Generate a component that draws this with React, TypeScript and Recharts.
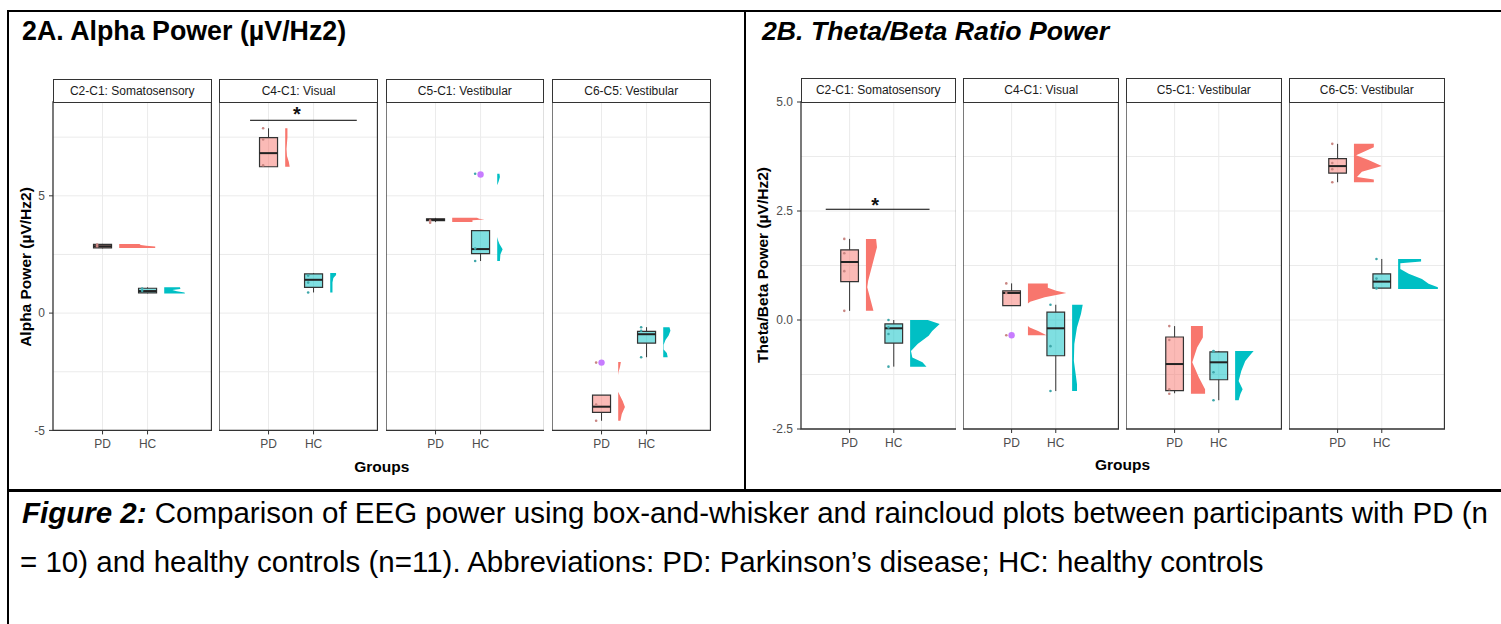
import React from 'react';
import {
  ComposedChart,
  Area,
  Scatter,
  XAxis,
  YAxis,
  CartesianGrid,
  ReferenceArea,
  ReferenceLine,
  ReferenceDot,
} from 'recharts';

const FONT = "'Liberation Sans', Arial, Helvetica, sans-serif";
const PD_COL = '#F8766D';
const HC_COL = '#00BFC4';
const PD_BOX = 'rgba(248,118,109,0.5)';
const HC_BOX = 'rgba(0,191,196,0.5)';
const OUT_COL = '#C77CFF';
const X_DOMAIN: [number, number] = [-0.1, 3.42];
const BOX_HALF = 0.2;
const VIOLIN_OFF = 0.37;
const JITTER_OFF = -0.12;
const TOP_PAD = 10;

const facetNames = ['C2-C1: Somatosensory', 'C4-C1: Visual', 'C5-C1: Vestibular', 'C6-C5: Vestibular'];
const groupNames = ['PD', 'HC'];

// ---- 2A Alpha power ----
// box stats per facet: [lower whisker, Q1, median, Q3, upper whisker]
const alphaBoxPD = [
  [2.76, 2.78, 2.85, 2.93, 2.95],
  [6.24, 6.24, 6.82, 7.48, 7.88],
  [3.88, 3.94, 3.98, 4.02, 4.06],
  [-4.59, -4.23, -3.99, -3.5, -3.5],
];
const alphaBoxHC = [
  [0.84, 0.86, 0.94, 1.06, 1.1],
  [0.88, 1.1, 1.42, 1.67, 1.71],
  [2.22, 2.54, 2.73, 3.52, 3.52],
  [-1.88, -1.28, -0.9, -0.78, -0.6],
];
const alphaPtsPD = [[2.85, 2.92], [7.88, 7.4, 6.3], [3.95, 3.85], [-4.59, -3.9, -2.11]];
const alphaPtsHC = [[0.95, 1.05], [1.6, 1.3, 0.88], [2.22, 2.75, 5.94], [-0.6, -0.75, -1.88]];
const alphaOutPD = [[], [], [], [-2.11]];
const alphaOutHC = [[], [], [5.91], []];
// half-violin profile per facet: [value, width]
const alphaVioPD = [
  [[2.95, 0.45], [2.9, 0.48], [2.87, 0.6], [2.84, 0.8], [2.78, 0.8]],
  [[7.88, 0.05], [7.5, 0.05], [7.0, 0.03], [6.7, 0.04], [6.45, 0.08], [6.24, 0.1]],
  [[4.07, 0.55], [4.02, 0.6], [3.99, 0.72], [3.96, 0.45], [3.88, 0.45]],
  [[-2.08, 0.06], [-2.3, 0.04], [-2.5, 0.01], [-2.65, 0], [-3.35, 0], [-3.48, 0.03], [-3.75, 0.1], [-4.0, 0.15], [-4.3, 0.08], [-4.59, 0.05]],
];
const alphaVioHC = [
  [[1.1, 0.35], [1.03, 0.36], [0.98, 0.18], [0.93, 0.28], [0.88, 0.45], [0.84, 0.46]],
  [[1.71, 0.13], [1.62, 0.13], [1.5, 0.07], [1.3, 0.05], [1.1, 0.05], [0.88, 0.05]],
  [[5.94, 0.05], [5.8, 0.06], [5.6, 0.03], [5.45, 0], [3.25, 0], [3.1, 0.02], [2.95, 0.05], [2.72, 0.12], [2.5, 0.07], [2.22, 0.06]],
  [[-0.6, 0.14], [-0.75, 0.16], [-0.95, 0.12], [-1.15, 0.05], [-1.35, 0.01], [-1.55, 0.01], [-1.7, 0.08], [-1.88, 0.1]],
];
const alphaTicks = [-5, 0, 5];
const alphaGrid = [-5, -2.5, 0, 2.5, 5, 7.5];

// ---- 2B Theta/Beta ratio ----
const thetaBoxPD = [
  [0.21, 0.88, 1.33, 1.61, 1.86],
  [0.33, 0.33, 0.62, 0.67, 0.84],
  [-1.68, -1.62, -1.01, -0.39, -0.14],
  [3.16, 3.37, 3.53, 3.7, 4.04],
];
const thetaBoxHC = [
  [-1.07, -0.53, -0.19, -0.09, 0.0],
  [-1.63, -0.82, -0.19, 0.18, 0.35],
  [-1.84, -1.37, -0.97, -0.73, -0.71],
  [0.73, 0.73, 0.88, 1.06, 1.4],
];
const thetaPtsPD = [[1.86, 1.53, 1.12, 0.21], [0.84, 0.62, -0.35], [-0.14, -0.46, -1.59, -1.69], [4.04, 3.6, 3.46, 3.16]];
const thetaPtsHC = [[0.0, -0.17, -0.32, -1.07], [0.35, -0.6, -1.63], [-0.71, -0.72, -1.2, -1.84], [1.4, 0.95, 0.73, 0.73]];
const thetaOutPD = [[], [-0.35], [], []];
const thetaOutHC = [[], [], [], []];
const thetaVioPD = [
  [[1.86, 0.23], [1.67, 0.25], [1.44, 0.19], [1.13, 0.11], [0.9, 0.05], [0.75, 0.03], [0.44, 0.11], [0.21, 0.17]],
  [[0.84, 0.45], [0.74, 0.45], [0.67, 0.64], [0.62, 0.87], [0.52, 0.38], [0.42, 0.05], [0.38, 0], [-0.14, 0], [-0.17, 0.04], [-0.25, 0.23], [-0.35, 0.42]],
  [[-0.14, 0.27], [-0.4, 0.27], [-0.63, 0.14], [-0.97, 0.03], [-1.32, 0.18], [-1.59, 0.32], [-1.69, 0.32]],
  [[4.04, 0.45], [3.96, 0.45], [3.78, 0.05], [3.67, 0.33], [3.53, 0.63], [3.4, 0.18], [3.28, 0.07], [3.22, 0.45], [3.16, 0.45]],
];
const thetaVioHC = [
  [[0.0, 0.4], [-0.09, 0.67], [-0.25, 0.5], [-0.36, 0.42], [-0.55, 0.17], [-0.71, 0.02], [-0.86, 0.05], [-0.97, 0.28], [-1.07, 0.37]],
  [[0.35, 0.24], [0.14, 0.2], [-0.17, 0.11], [-0.55, 0.05], [-0.94, 0.04], [-1.24, 0.08], [-1.47, 0.11], [-1.63, 0.11]],
  [[-0.71, 0.42], [-0.78, 0.36], [-0.94, 0.23], [-1.17, 0.14], [-1.4, 0.08], [-1.59, 0.17], [-1.7, 0.12], [-1.84, 0.08]],
  [[1.4, 0.52], [1.34, 0.52], [1.3, 0.05], [1.17, 0.05], [1.06, 0.24], [0.94, 0.54], [0.83, 0.69], [0.75, 0.9], [0.71, 0.9]],
];
const thetaTicks = [-2.5, 0, 2.5, 5];
const thetaGrid = [-2.5, -1.25, 0, 1.25, 2.5, 3.75, 5];

type Panel = {
  domain: [number, number];
  ticks: number[];
  grid: number[];
  fmt: (v: number) => string;
  boxPD: number[][];
  boxHC: number[][];
  ptsPD: number[][];
  ptsHC: number[][];
  outPD: number[][];
  outHC: number[][];
  vioPD: number[][][];
  vioHC: number[][][];
  sig: { facet: number; from: number; to: number; y: number; starX: number; starY: number };
};

const alphaPanel: Panel = {
  domain: [-5, 9],
  ticks: alphaTicks,
  grid: alphaGrid,
  fmt: (v) => String(v),
  boxPD: alphaBoxPD,
  boxHC: alphaBoxHC,
  ptsPD: alphaPtsPD,
  ptsHC: alphaPtsHC,
  outPD: alphaOutPD,
  outHC: alphaOutHC,
  vioPD: alphaVioPD,
  vioHC: alphaVioHC,
  sig: { facet: 1, from: 0.59, to: 2.96, y: 8.22, starX: 1.63, starY: 8.5 },
};

const thetaPanel: Panel = {
  domain: [-2.5, 5],
  ticks: thetaTicks,
  grid: thetaGrid,
  fmt: (v) => v.toFixed(1),
  boxPD: thetaBoxPD,
  boxHC: thetaBoxHC,
  ptsPD: thetaPtsPD,
  ptsHC: thetaPtsHC,
  outPD: thetaOutPD,
  outHC: thetaOutHC,
  vioPD: thetaVioPD,
  vioHC: thetaVioHC,
  sig: { facet: 0, from: 0.46, to: 2.81, y: 2.54, starX: 1.58, starY: 2.63 },
};

function Facet({ p, i, left, top, w, h, axisW }: { p: Panel; i: number; left: number; top: number; w: number; h: number; axisW: number }) {
  const groups = [
    { g: 1, box: p.boxPD[i], pts: p.ptsPD[i], out: p.outPD[i], vio: p.vioPD[i], fill: PD_COL, boxFill: PD_BOX, dot: '#c98682' },
    { g: 2, box: p.boxHC[i], pts: p.ptsHC[i], out: p.outHC[i], vio: p.vioHC[i], fill: HC_COL, boxFill: HC_BOX, dot: '#3fa7aa' },
  ];
  return (
    <div style={{ position: 'absolute', left: left - axisW, top: top - TOP_PAD }}>
      <ComposedChart
        layout="vertical"
        width={w + axisW}
        height={h + 40 + TOP_PAD}
        margin={{ top: TOP_PAD, right: 0, bottom: 0, left: 0 }}
        style={{ fontFamily: FONT }}
      >
        <CartesianGrid horizontalValues={p.grid} verticalValues={[1, 2]} stroke="#ebebeb" strokeWidth={1} />
        <XAxis
          type="number"
          dataKey="x"
          domain={X_DOMAIN}
          allowDataOverflow
          ticks={[1, 2]}
          interval={0}
          tickFormatter={(v: number) => groupNames[v - 1]}
          axisLine={false}
          tickLine={{ stroke: '#333' }}
          tickSize={4}
          tickMargin={5}
          tick={{ fill: '#4d4d4d', fontSize: 12 }}
          height={40}
        />
        <YAxis
          type="number"
          dataKey="v"
          domain={p.domain}
          allowDataOverflow
          reversed
          ticks={p.ticks}
          interval={0}
          tickFormatter={p.fmt}
          hide={axisW === 0}
          width={axisW}
          axisLine={false}
          tickLine={{ stroke: '#333' }}
          tickSize={4}
          tickMargin={4}
          tick={{ fill: '#4d4d4d', fontSize: 12 }}
        />
        {groups.map((gr) => (
          <Area
            key={'vio' + gr.g}
            data={gr.vio.map(([v, wd]) => ({ v, w: [gr.g + VIOLIN_OFF, gr.g + VIOLIN_OFF + wd] }))}
            dataKey="w"
            type="linear"
            stroke="none"
            fill={gr.fill}
            fillOpacity={1}
            dot={false}
            activeDot={false}
            isAnimationActive={false}
          />
        ))}
        {groups.map((gr) => (
          <ReferenceLine
            key={'wu' + gr.g}
            segment={[{ x: gr.g, y: gr.box[3] }, { x: gr.g, y: gr.box[4] }]}
            stroke="#333"
            strokeWidth={1}
          />
        ))}
        {groups.map((gr) => (
          <ReferenceLine
            key={'wl' + gr.g}
            segment={[{ x: gr.g, y: gr.box[0] }, { x: gr.g, y: gr.box[1] }]}
            stroke="#333"
            strokeWidth={1}
          />
        ))}
        {groups.map((gr) => (
          <ReferenceArea
            key={'box' + gr.g}
            x1={gr.g - BOX_HALF}
            x2={gr.g + BOX_HALF}
            y1={gr.box[1]}
            y2={gr.box[3]}
            fill={gr.boxFill}
            fillOpacity={1}
            stroke="#333"
            strokeWidth={1.2}
          />
        ))}
        {groups.map((gr) => (
          <ReferenceLine
            key={'med' + gr.g}
            segment={[{ x: gr.g - BOX_HALF, y: gr.box[2] }, { x: gr.g + BOX_HALF, y: gr.box[2] }]}
            stroke="#222"
            strokeWidth={2}
          />
        ))}
        {groups.map((gr) => (
          <Scatter
            key={'pts' + gr.g}
            data={gr.pts.map((v) => ({ x: gr.g + JITTER_OFF, v }))}
            isAnimationActive={false}
            shape={(s: any) => <circle cx={s.cx} cy={s.cy} r={1.3} fill={gr.dot} />}
          />
        ))}
        {groups.map((gr) => (
          <Scatter
            key={'out' + gr.g}
            data={gr.out.map((v) => ({ x: gr.g, v }))}
            isAnimationActive={false}
            shape={(s: any) => <circle cx={s.cx} cy={s.cy} r={3.2} fill={OUT_COL} />}
          />
        ))}
        {p.sig.facet === i && (
          <ReferenceLine
            segment={[{ x: p.sig.from, y: p.sig.y }, { x: p.sig.to, y: p.sig.y }]}
            stroke="#000"
            strokeWidth={1}
          />
        )}
        {p.sig.facet === i && (
          <ReferenceDot
            x={p.sig.starX}
            y={p.sig.starY}
            r={0}
            fill="none"
            stroke="none"
            label={{ value: '*', position: 'center', fontSize: 20, fontWeight: 'bold', fill: '#111' }}
          />
        )}
        <ReferenceArea
          x1={X_DOMAIN[0]}
          x2={X_DOMAIN[1]}
          y1={p.domain[0]}
          y2={p.domain[1]}
          fill="none"
          stroke="#333"
          strokeWidth={1.3}
          ifOverflow="visible"
        />
      </ComposedChart>
    </div>
  );
}

function Strip({ left, top, w, h, text }: { left: number; top: number; w: number; h: number; text: string }) {
  return (
    <div
      style={{
        position: 'absolute',
        left,
        top,
        width: w,
        height: h,
        boxSizing: 'border-box',
        border: '1.3px solid #333',
        background: '#fff',
        color: '#1a1a1a',
        fontSize: 12,
        lineHeight: `${h - 2}px`,
        textAlign: 'center',
        whiteSpace: 'nowrap',
      }}
    >
      {text}
    </div>
  );
}

function PanelBlock({ p, lefts, w, plotTop, plotH, stripTop, axisW, yTitle, yTitleX, groupsY }: any) {
  const midY = plotTop + plotH / 2;
  const centerX = (lefts[0] + lefts[3] + w) / 2;
  return (
    <>
      {lefts.map((l: number, i: number) => (
        <Facet key={'f' + i} p={p} i={i} left={l} top={plotTop} w={w} h={plotH} axisW={i === 0 ? axisW : 0} />
      ))}
      {lefts.map((l: number, i: number) => (
        <Strip key={'s' + i} left={l} top={stripTop} w={w} h={plotTop - stripTop + 1} text={facetNames[i]} />
      ))}
      <div
        style={{
          position: 'absolute',
          left: yTitleX,
          top: midY,
          transform: 'translate(-50%, -50%) rotate(-90deg)',
          fontWeight: 'bold',
          fontSize: 15.5,
          whiteSpace: 'nowrap',
          color: '#000',
        }}
      >
        {yTitle}
      </div>
      <div
        style={{
          position: 'absolute',
          left: centerX,
          top: groupsY,
          transform: 'translate(-50%, -50%)',
          fontWeight: 'bold',
          fontSize: 15.5,
          whiteSpace: 'nowrap',
          color: '#000',
        }}
      >
        Groups
      </div>
    </>
  );
}

export default function App() {
  return (
    <div
      style={{
        position: 'absolute',
        left: 0,
        top: 0,
        width: 1501,
        height: 624,
        background: '#fff',
        fontFamily: FONT,
        overflow: 'hidden',
      }}
    >
      <div style={{ position: 'absolute', left: 7, top: 10, width: 1494, height: 2, background: '#000' }} />
      <div style={{ position: 'absolute', left: 7, top: 10, width: 2, height: 614, background: '#000' }} />
      <div style={{ position: 'absolute', left: 744, top: 10, width: 2, height: 481, background: '#000' }} />
      <div style={{ position: 'absolute', left: 7, top: 489, width: 1494, height: 3, background: '#000' }} />

      <div style={{ position: 'absolute', left: 22, top: 16, fontSize: 26.8, lineHeight: '30px', fontWeight: 'bold', whiteSpace: 'nowrap' }}>
        2A. Alpha Power (µV/Hz2)
      </div>
      <div style={{ position: 'absolute', left: 762, top: 16, fontSize: 26.7, lineHeight: '30px', fontWeight: 'bold', fontStyle: 'italic', whiteSpace: 'nowrap' }}>
        2B. Theta/Beta Ratio Power
      </div>

      <PanelBlock
        p={alphaPanel}
        lefts={[53, 219.3, 385.6, 552]}
        w={158.5}
        plotTop={102.3}
        plotH={328.4}
        stripTop={79}
        axisW={46}
        yTitle="Alpha Power (µV/Hz2)"
        yTitleX={26}
        groupsY={466.7}
      />
      <PanelBlock
        p={thetaPanel}
        lefts={[800.5, 963.4, 1126.1, 1289]}
        w={155.5}
        plotTop={101.7}
        plotH={327}
        stripTop={78.3}
        axisW={36}
        yTitle="Theta/Beta Power (µV/Hz2)"
        yTitleX={763.3}
        groupsY={465}
      />

      <div style={{ position: 'absolute', left: 22, top: 497, fontSize: 29.5, lineHeight: '32px', whiteSpace: 'nowrap', color: '#000' }}>
        <span style={{ fontWeight: 'bold', fontStyle: 'italic' }}>Figure 2:</span> Comparison of EEG power using box-and-whisker and raincloud plots between participants with PD (n
      </div>
      <div style={{ position: 'absolute', left: 20, top: 546, fontSize: 29.5, lineHeight: '32px', whiteSpace: 'nowrap', color: '#000' }}>
        = 10) and healthy controls (n=11). Abbreviations: PD: Parkinson’s disease; HC: healthy controls
      </div>
    </div>
  );
}
